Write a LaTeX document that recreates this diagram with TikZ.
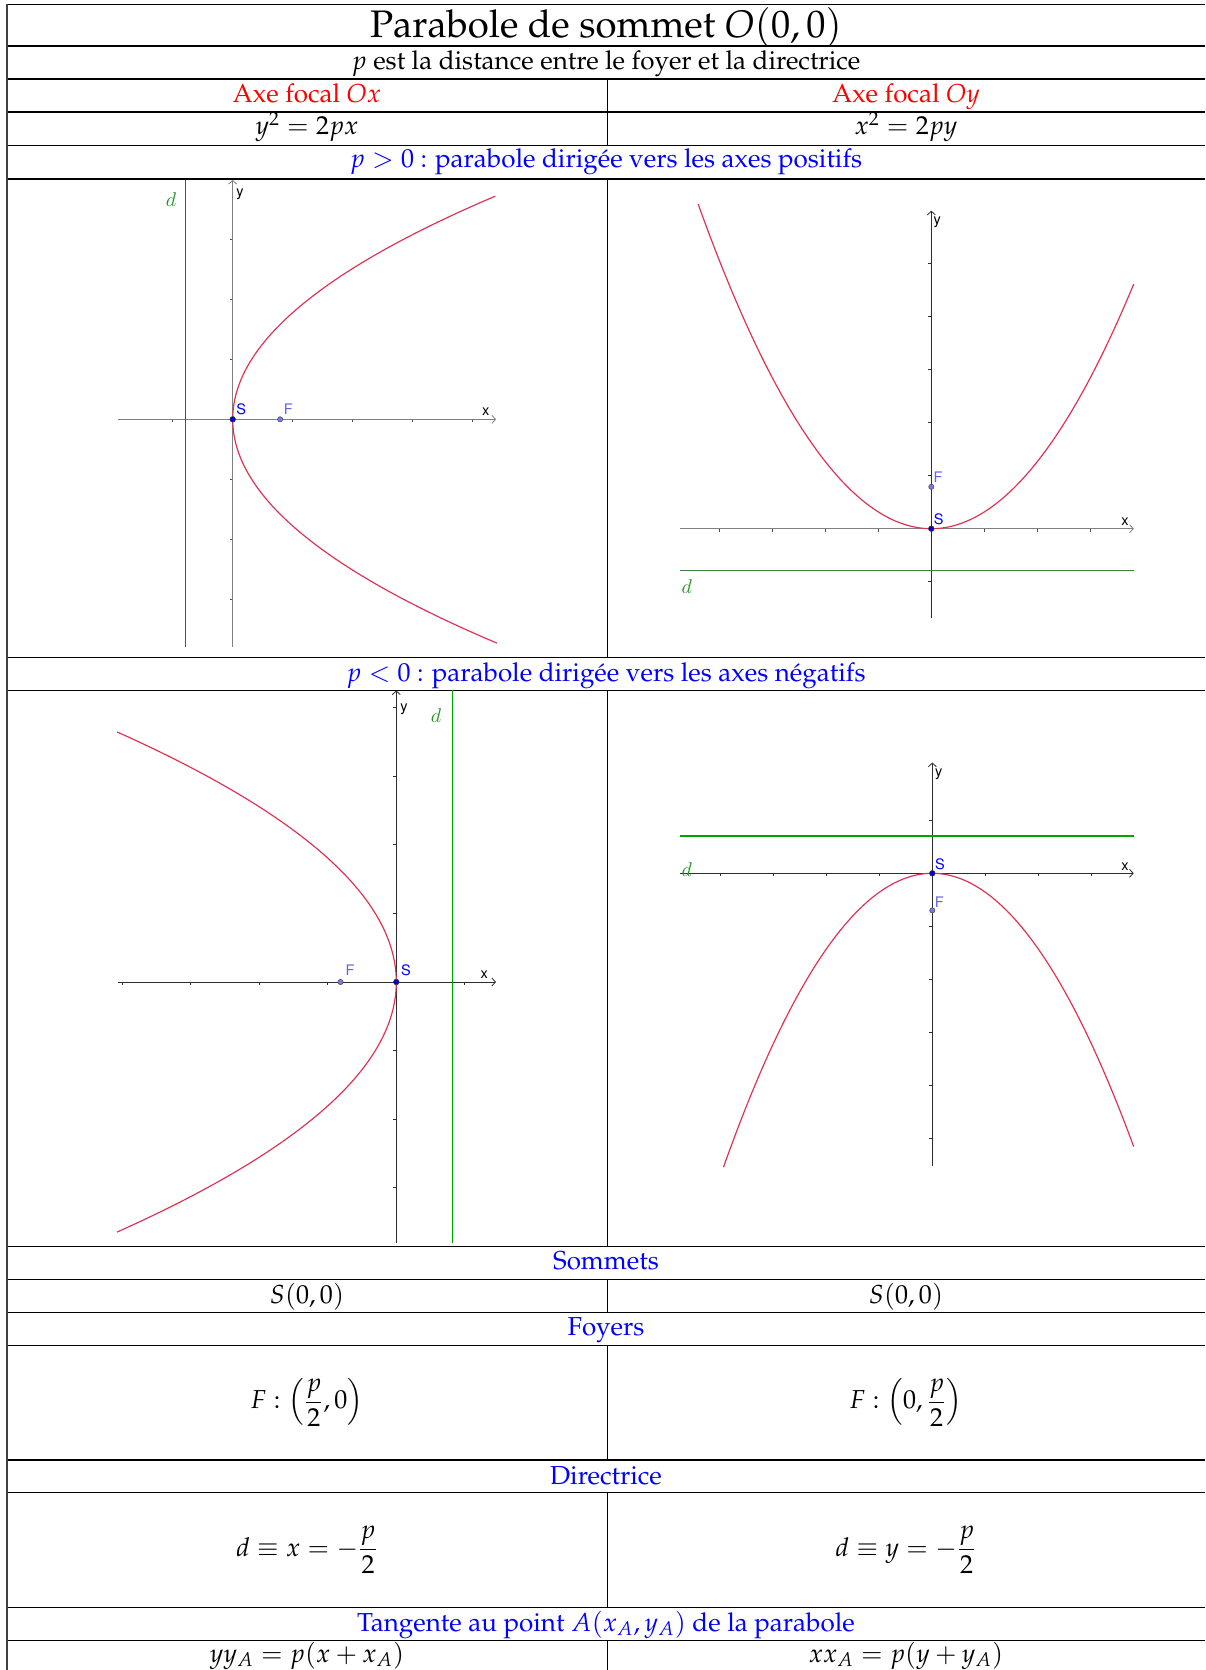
\documentclass[tikz,border=0pt]{standalone}
\usepackage[T1]{fontenc}
\usepackage{mathpazo}
\usetikzlibrary{arrows.meta}
\definecolor{parab}{RGB}{222,50,82}
\definecolor{dgreen}{RGB}{0,135,0}
\definecolor{dgreenb}{RGB}{60,128,60}
\definecolor{dlab}{RGB}{40,150,40}
\definecolor{flab}{RGB}{100,100,235}
\definecolor{ffill}{RGB}{120,120,245}
\definecolor{axgrey}{RGB}{128,128,128}
\definecolor{axdark}{RGB}{45,45,45}
\tikzset{
  hrule/.style={line width=0.8pt, black},
  vrule/.style={line width=0.55pt, black},
  txt/.style={inner sep=0pt, anchor=base, font=\fontsize{14.3}{17}\selectfont},
  mtxt/.style={inner sep=0pt, anchor=center, font=\fontsize{14.3}{17}\selectfont},
  bigtxt/.style={inner sep=0pt, anchor=base, font=\fontsize{21.1}{25}\selectfont},
  axg/.style={line width=0.8pt, axgrey, -{Straight Barb[length=2pt,width=4.4pt,line width=0.45pt]}},
  axd/.style={line width=0.5pt, axdark, -{Straight Barb[length=2pt,width=4.4pt,line width=0.45pt]}},
  tickg/.style={line width=0.5pt, axgrey!60!black},
  tickd/.style={line width=0.5pt, axdark},
  dirline/.style={line width=0.8pt, dgreen},
  parabola/.style={line width=0.65pt, parab},
  ptS/.style={circle, inner sep=0pt, minimum size=3.1pt, draw=black!80, line width=0.3pt, fill=blue!85!black},
  ptF/.style={circle, inner sep=0pt, minimum size=2.9pt, draw=black!70, line width=0.3pt, fill=ffill},
  glab/.style={inner sep=0pt, anchor=center, font=\fontfamily{phv}\fontsize{8}{9}\selectfont},
  dlabel/.style={inner sep=0pt, anchor=center, text=dlab, font=\fontsize{10.5}{11}\usefont{OML}{lmm}{m}{it}},
}
\begin{document}
\begin{tikzpicture}[x=0.55pt, y=-0.55pt]
\useasboundingbox (0,0) rectangle (1205,1670);
% ---------------- table rules ----------------
\foreach \yy in {4.3,46,79,112,145.3,179,657.5,690.5,1246.5,1279.5,1312.6,1345.6,1459.8,1492.7,1607.3,1640.3}
  \draw[hrule] (6.7,\yy) -- (1205,\yy);
\draw[line width=0.9pt, black!75] (6.7,4.3) -- (6.7,1670);
\foreach \ya/\yb in {79/145.3,179/657.5,690.5/1246.5,1279.5/1312.6,1345.6/1459.8,1492.7/1607.3,1640.3/1670}
  \draw[vrule] (607,\ya) -- (607,\yb);
% ---------------- texts ----------------
\node[bigtxt] (title) at (606,37.5) {Parabole de sommet $O(0,0)$};
\node[txt] (def) at (606,69.5) {$p$ est la distance entre le foyer et la directrice};
\node[txt, text=red] (axox) at (307,103) {Axe focal $Ox$};
\node[txt, text=red] (axoy) at (906,103) {Axe focal $Oy$};
\node[txt] (eqx) at (307,134.5) {$y^2=2px$};
\node[txt] (eqy) at (906,134.5) {$x^2=2py$};
\node[txt, text=blue] (ppos) at (606,168) {$p>0$ : parabole dirig\'ee vers les axes positifs};
\node[txt, text=blue] (pneg) at (606,681) {$p<0$ : parabole dirig\'ee vers les axes n\'egatifs};
\node[txt, text=blue] (som) at (606,1269.5) {Sommets};
\node[txt] (somx) at (307,1303) {$S(0,0)$};
\node[txt] (somy) at (906,1303) {$S(0,0)$};
\node[txt, text=blue] (foy) at (606,1335.5) {Foyers};
\node[mtxt] (foyx) at (307,1402.6) {$\displaystyle F:\left(\frac{p}{2},0\right)$};
\node[mtxt] (foyy) at (906,1402.6) {$\displaystyle F:\left(0,\frac{p}{2}\right)$};
\node[txt, text=blue] (dir) at (606,1484) {Directrice};
\node[mtxt] (dirx) at (307,1550) {$\displaystyle d\equiv x=-\frac{p}{2}$};
\node[mtxt] (diry) at (906,1550) {$\displaystyle d\equiv y=-\frac{p}{2}$};
\node[txt, text=blue] (tan) at (606,1631) {Tangente au point $A(x_A,y_A)$ de la parabole};
\node[txt] (tanx) at (307,1662) {$yy_A=p(x+x_A)$};
\node[txt] (tany) at (906,1662) {$xx_A=p(y+y_A)$};
% ---------------- graph 1 : y^2 = 2px, p>0 ----------------
\begin{scope}[shift={(232.7,419.3)}, x=33pt, y=33pt]
  \foreach \t in {-1,1,2,3,4} \draw[tickg] (\t,0) -- ++(0pt,-1.7pt);
  \foreach \t in {-3,-2,-1,1,2,3} \draw[tickg] (0,\t) -- ++(-1.7pt,0pt);
  \draw[axg] (-1.907,0) -- (4.39,0);
  \draw[axg] (0,-3.795) -- (0,3.99);
  \draw[dirline] (-0.79,-3.795) -- (-0.79,3.99);
  \draw[parabola] plot[domain=-3.73:3.72, samples=140, variable=\t] ({\t*\t/3.16},{\t});
  \node[ptF] (F1) at (0.79,0) {};
  \node[ptS] (S1) at (0,0) {};
\end{scope}
\node[dlabel] (d1) at (171,200) {d};
\node[glab] (y1) at (240,194) {y};
\node[glab] (x1) at (485.7,411.7) {x};
\node[glab, text=blue] (S1l) at (241.3,409.3) {S};
\node[glab, text=flab] (F1l) at (288.3,409.3) {F};
% ---------------- graph 2 : x^2 = 2py, p>0 ----------------
\begin{scope}[shift={(931.3,528.7)}, x=29.15pt, y=29.15pt]
  \foreach \t in {-4,-3,-2,-1,1,2,3} \draw[tickg] (\t,0) -- ++(0pt,-1.7pt);
  \foreach \t in {-1,1,2,3,4,5} \draw[tickd] (0,\t) -- ++(-1.7pt,0pt);
  \draw[axg] (-4.74,0) -- (3.82,0);
  \draw[axd] (0,-1.69) -- (0,6.0);
  \draw[line width=0.8pt, dgreenb] (-4.74,-0.79) -- (3.82,-0.79);
  \draw[parabola] plot[domain=-4.40:3.82, samples=140, variable=\t] ({\t},{\t*\t/3.16});
  \node[ptF] (F2) at (0,0.79) {};
  \node[ptS] (S2) at (0,0) {};
\end{scope}
\node[dlabel] (d2) at (686.7,586.7) {d};
\node[glab] (y2) at (937.3,221.7) {y};
\node[glab] (x2) at (1125,521.7) {x};
\node[glab, text=blue] (S2l) at (938.7,519.3) {S};
\node[glab, text=flab] (F2l) at (938,477.3) {F};
% ---------------- graph 3 : y^2 = 2px, p<0 ----------------
\begin{scope}[shift={(396.3,982)}, x=37.675pt, y=37.73pt]
  \foreach \t in {-4,-3,-2,-1,1} \draw[tickd] (\t,0) -- ++(0pt,-1.7pt);
  \foreach \t in {-3,-2,-1,1,2,3,4} \draw[tickd] (0,\t) -- ++(-1.7pt,0pt);
  \draw[axd] (-4.06,0) -- (1.455,0);
  \draw[axd] (0,-3.80) -- (0,4.25);
  \draw[line width=0.8pt, green!65!black] (0.82,-3.80) -- (0.82,4.25);
  \draw[parabola] plot[domain=-3.645:3.645, samples=140, variable=\t] ({-\t*\t/3.26},{\t});
  \node[ptF] (F3) at (-0.815,0) {};
  \node[ptS] (S3) at (0,0) {};
\end{scope}
\node[dlabel] (d3) at (436,715.2) {d};
\node[glab] (y3) at (404,708.7) {y};
\node[glab] (x3) at (484.3,974.3) {x};
\node[glab, text=blue] (S3l) at (406,970.7) {S};
\node[glab, text=flab] (F3l) at (350,970.7) {F};
% ---------------- graph 4 : x^2 = 2py, p<0 ----------------
\begin{scope}[shift={(932.3,873.3)}, x=29.15pt, y=29.15pt]
  \foreach \t in {-4,-3,-2,-1,1,2,3} \draw[tickd] (\t,0) -- ++(0pt,-1.7pt);
  \foreach \t in {-5,-4,-3,-2,-1,1} \draw[tickd] (0,\t) -- ++(-1.7pt,0pt);
  \draw[axd] (-4.76,0) -- (3.8,0);
  \draw[axd] (0,-5.53) -- (0,2.09);
  \draw[line width=0.8pt, green!65!black] (-4.76,0.70) -- (3.8,0.70);
  \draw[parabola] plot[domain=-3.94:3.8, samples=140, variable=\t] ({\t},{-\t*\t/2.8});
  \node[ptF] (F4) at (0,-0.70) {};
  \node[ptS] (S4) at (0,0) {};
\end{scope}
\node[dlabel] (d4) at (686.7,870) {d};
\node[glab] (y4) at (938.7,774) {y};
\node[glab] (x4) at (1125,866.7) {x};
\node[glab, text=blue] (S4l) at (940,864) {S};
\node[glab, text=flab] (F4l) at (939.3,902.3) {F};
\end{tikzpicture}
\end{document}
